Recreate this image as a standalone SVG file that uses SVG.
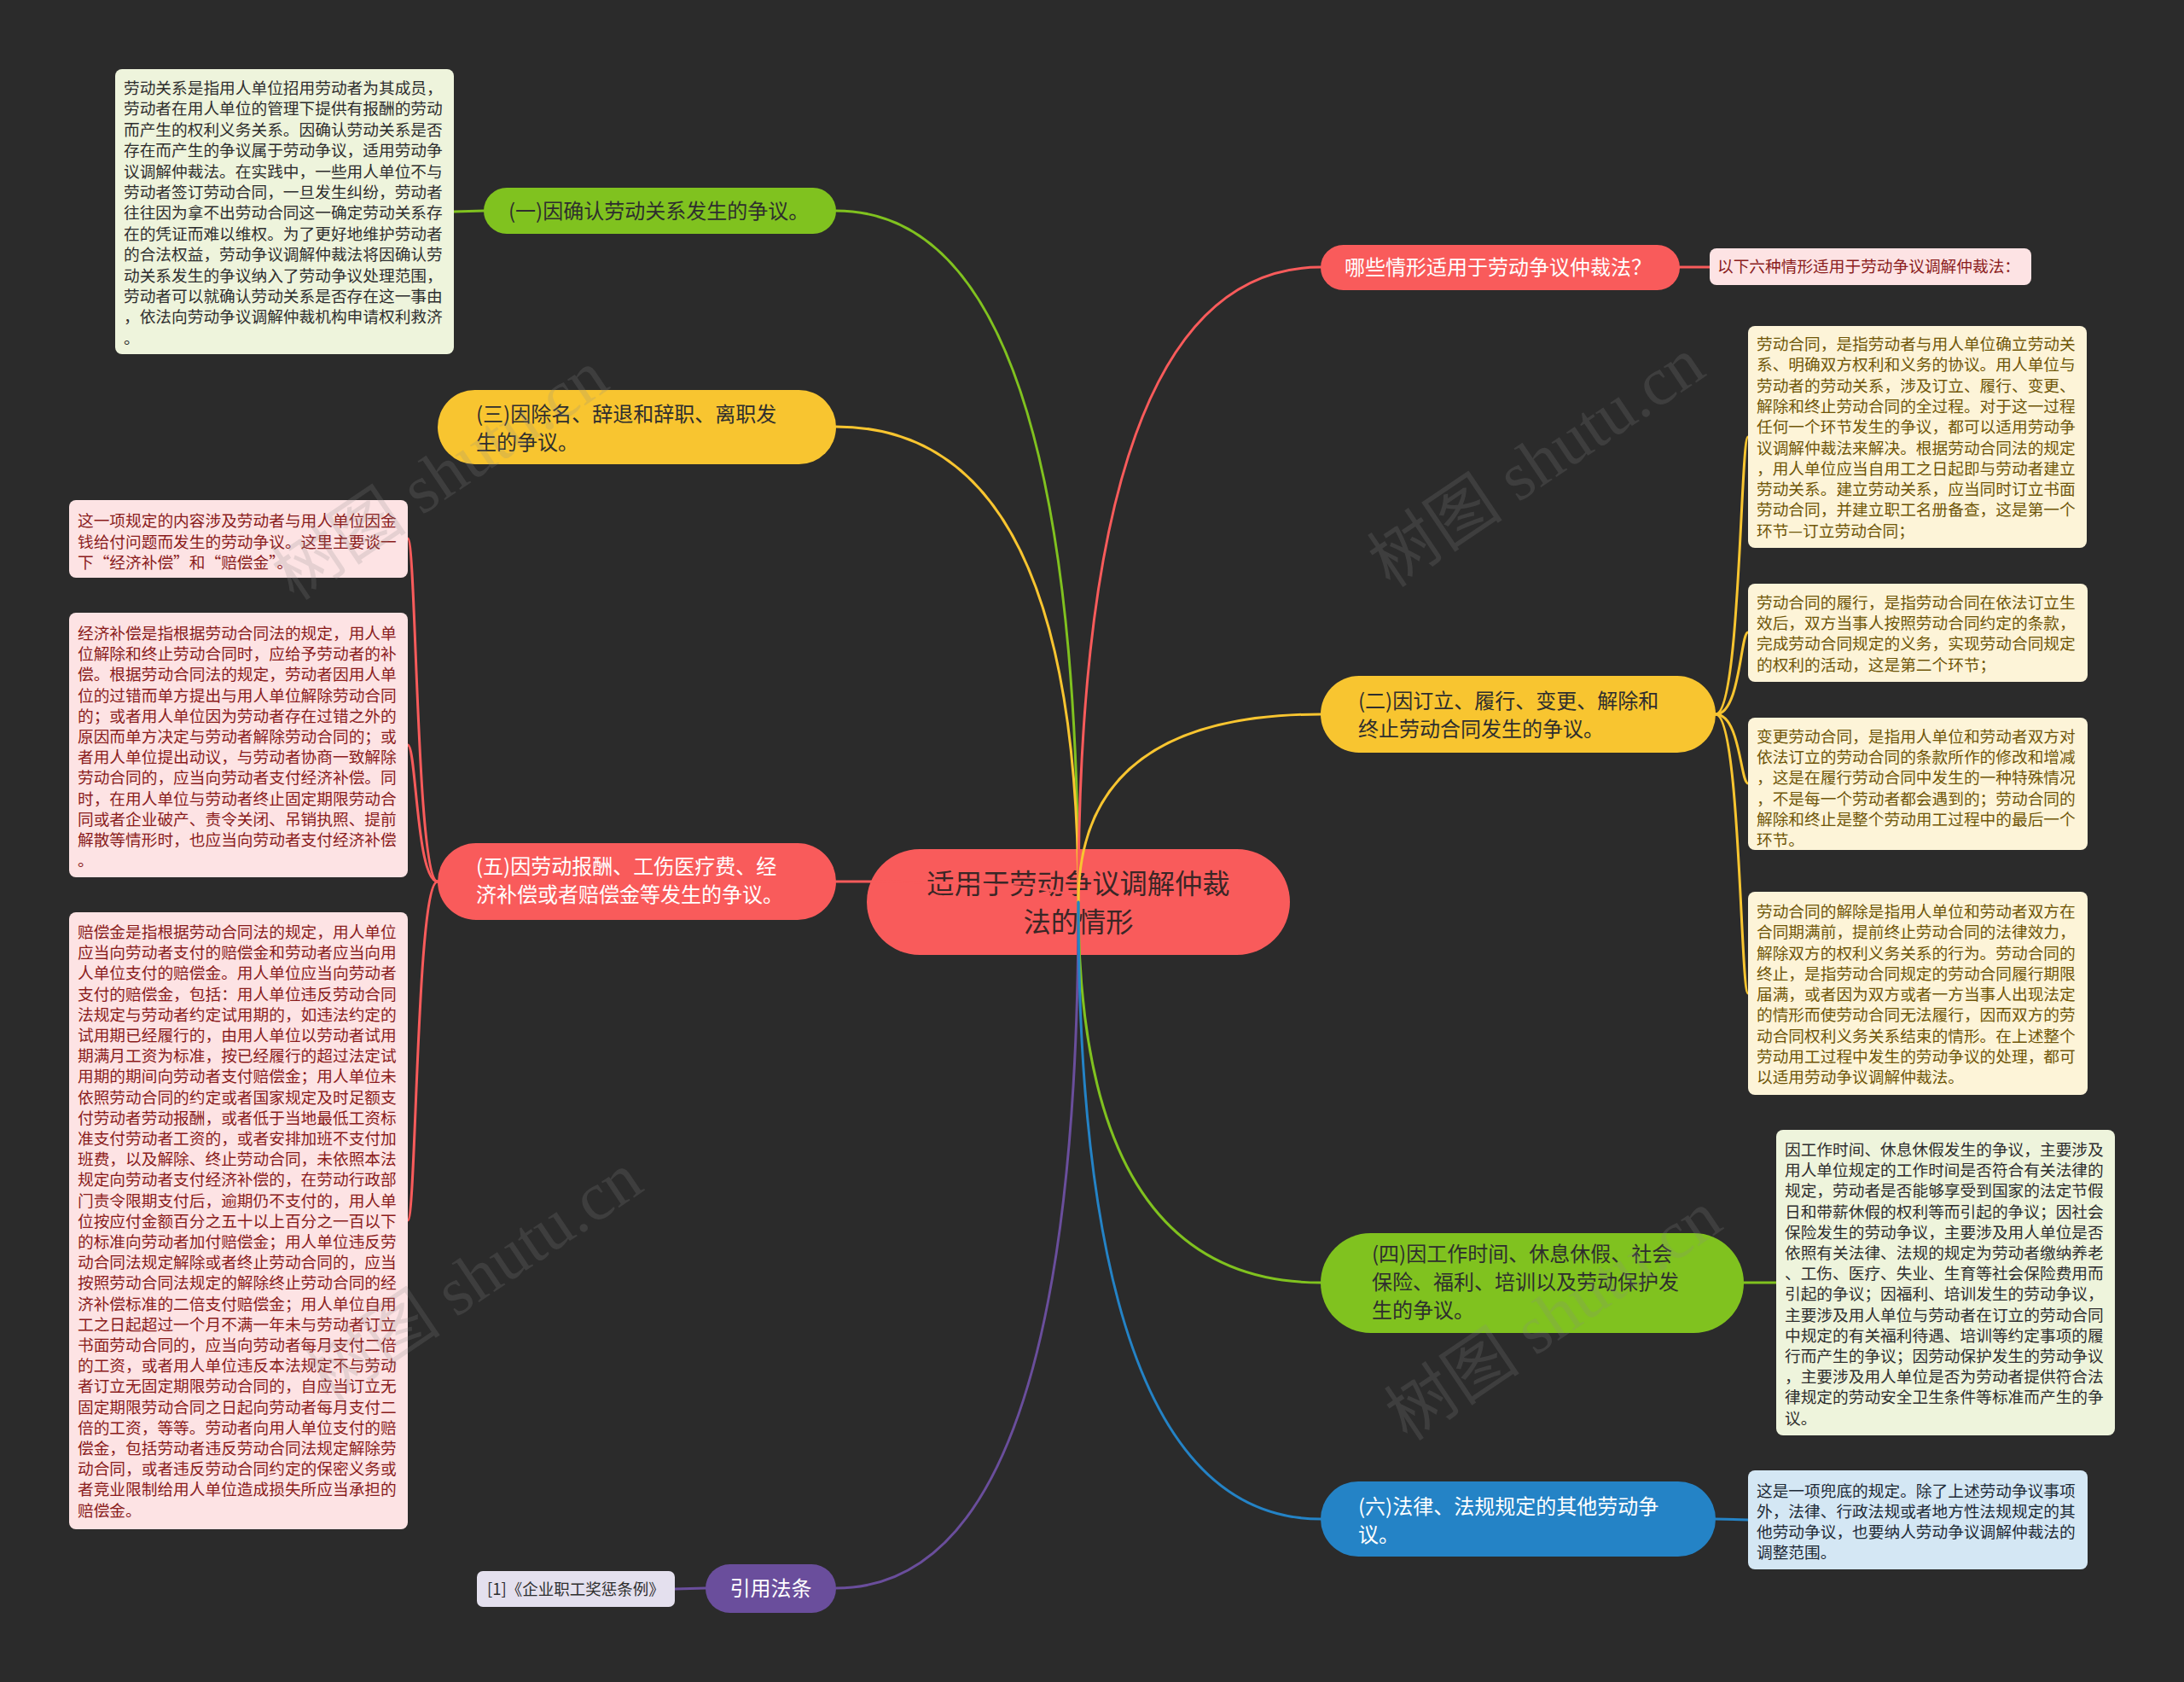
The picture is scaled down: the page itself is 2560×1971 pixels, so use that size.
<svg xmlns="http://www.w3.org/2000/svg" width="2560" height="1971" viewBox="0 0 2560 1971">
<style>
text { font-family: 'Noto Sans CJK SC', 'Noto Sans', sans-serif; }
.nt { font-size: 18.7px; }
.br { font-size: 24px; }
.cx { fill: none; stroke-width: 3; stroke-linecap: round; }
.g { stroke: #80c21f; }
.y { stroke: #f8c530; }
.r { stroke: #f95b5b; }
.b { stroke: #2483c6; }
.p { stroke: #6a4e9c; }
.wm { font-family: 'Liberation Serif', 'Noto Sans CJK SC', serif; font-size: 80px; fill: #8a8a8a; opacity: 0.2; }
.ngreen { fill: #eef4dc; }
.npink { fill: #fde3e4; }
.ncream { fill: #fdf4d8; }
.nblue { fill: #d4e7f4; }
.tdark { fill: #2e2e2e; }
.tred { fill: #8a1c1c; }
.tolive { fill: #6f5608; }
.tnavy { fill: #1e2a36; }
</style>
<rect x="0" y="0" width="2560" height="1971" fill="#2b2b2b"/>

<!-- center node -->
<g id="center">
<rect x="1016" y="995" width="496" height="124" rx="62" fill="#f95b5b"/>
<text x="1264" y="1047" font-size="32.3" text-anchor="middle" fill="#3a2626">适用于劳动争议调解仲裁</text>
<text x="1264" y="1092" font-size="32.3" text-anchor="middle" fill="#3a2626">法的情形</text>
</g>

<g id="connectors">
<path class="cx g" d="M1264,1057 Q1264,247 980,247"/>
<path class="cx y" d="M1264,1057 Q1264,500 980,500"/>
<path class="cx r" d="M1264,1057 Q1264,1033 980,1033"/>
<path class="cx p" d="M1264,1057 Q1264,1861 980,1861"/>
<path class="cx r" d="M1264,1057 Q1264,313 1548,313"/>
<path class="cx y" d="M1264,1057 Q1264,837 1548,837"/>
<path class="cx g" d="M1264,1057 Q1264,1503 1548,1503"/>
<path class="cx b" d="M1264,1057 Q1264,1780 1548,1780"/>
<path class="cx g" d="M567,247 L532,248"/>
<path class="cx r" d="M513,1033 C488,1033 488,631 478,631"/>
<path class="cx r" d="M513,1033 C488,1033 488,873 478,873"/>
<path class="cx r" d="M513,1033 C488,1033 488,1430 478,1430"/>
<path class="cx p" d="M827,1861 L791,1862"/>
<path class="cx r" d="M1969,313 L2004,313"/>
<path class="cx y" d="M2011,837 C2040,837 2040,512 2049,512"/>
<path class="cx y" d="M2011,837 C2040,837 2040,741 2049,741"/>
<path class="cx y" d="M2011,837 C2040,837 2040,918 2049,918"/>
<path class="cx y" d="M2011,837 C2040,837 2040,1164 2049,1164"/>
<path class="cx g" d="M2044,1503 L2082,1503"/>
<path class="cx b" d="M2011,1780 L2049,1781"/>
</g>

<g id="n1">
<rect x="567" y="220" width="413" height="54" rx="27" fill="#80c21f"/>
<text class="br tdark" x="596" y="256">(一)因确认劳动关系发生的争议。</text>
</g>
<g id="n3">
<rect x="513" y="457" width="467" height="87" rx="43.5" fill="#f8c530"/>
<text class="br tdark" x="558" y="494">(三)因除名、辞退和辞职、离职发</text>
<text class="br tdark" x="558" y="527">生的争议。</text>
</g>
<g id="n5">
<rect x="513" y="988" width="467" height="90" rx="45" fill="#f95b5b"/>
<text class="br" fill="#ffffff" x="558" y="1024">(五)因劳动报酬、工伤医疗费、经</text>
<text class="br" fill="#ffffff" x="558" y="1057">济补偿或者赔偿金等发生的争议。</text>
</g>
<g id="nref">
<rect x="827" y="1833" width="153" height="57" rx="28.5" fill="#6a4e9c"/>
<text class="br" fill="#ffffff" x="903.5" y="1870" text-anchor="middle">引用法条</text>
</g>
<g id="nq">
<rect x="1548" y="287" width="421" height="53" rx="26.5" fill="#f95b5b"/>
<text class="br" fill="#ffffff" x="1576" y="322">哪些情形适用于劳动争议仲裁法？</text>
</g>
<g id="n2">
<rect x="1548" y="792" width="463" height="90" rx="45" fill="#f8c530"/>
<text class="br tdark" x="1592" y="830">(二)因订立、履行、变更、解除和</text>
<text class="br tdark" x="1592" y="863">终止劳动合同发生的争议。</text>
</g>
<g id="n4">
<rect x="1548" y="1445" width="496" height="117" rx="58.5" fill="#80c21f"/>
<text class="br tdark" x="1608" y="1478">(四)因工作时间、休息休假、社会</text>
<text class="br tdark" x="1608" y="1511">保险、福利、培训以及劳动保护发</text>
<text class="br tdark" x="1608" y="1544">生的争议。</text>
</g>
<g id="n6">
<rect x="1548" y="1736" width="463" height="88" rx="44" fill="#2483c6"/>
<text class="br" fill="#ffffff" x="1592" y="1774">(六)法律、法规规定的其他劳动争</text>
<text class="br" fill="#ffffff" x="1592" y="1807">议。</text>
</g>

<g id="note-tl">
<rect class="ngreen" x="135" y="81" width="397" height="334" rx="8"/>
<text class="nt tdark" x="145" y="110">
<tspan x="145">劳动关系是指用人单位招用劳动者为其成员，</tspan>
<tspan x="145" dy="24.4">劳动者在用人单位的管理下提供有报酬的劳动</tspan>
<tspan x="145" dy="24.4">而产生的权利义务关系。因确认劳动关系是否</tspan>
<tspan x="145" dy="24.4">存在而产生的争议属于劳动争议，适用劳动争</tspan>
<tspan x="145" dy="24.4">议调解仲裁法。在实践中，一些用人单位不与</tspan>
<tspan x="145" dy="24.4">劳动者签订劳动合同，一旦发生纠纷，劳动者</tspan>
<tspan x="145" dy="24.4">往往因为拿不出劳动合同这一确定劳动关系存</tspan>
<tspan x="145" dy="24.4">在的凭证而难以维权。为了更好地维护劳动者</tspan>
<tspan x="145" dy="24.4">的合法权益，劳动争议调解仲裁法将因确认劳</tspan>
<tspan x="145" dy="24.4">动关系发生的争议纳入了劳动争议处理范围，</tspan>
<tspan x="145" dy="24.4">劳动者可以就确认劳动关系是否存在这一事由</tspan>
<tspan x="145" dy="24.4">，依法向劳动争议调解仲裁机构申请权利救济</tspan>
<tspan x="145" dy="24.4">。</tspan>
</text>
</g>

<g id="note-a">
<rect class="npink" x="81" y="586" width="397" height="91" rx="8"/>
<text class="nt tred" x="91" y="617">
<tspan x="91">这一项规定的内容涉及劳动者与用人单位因金</tspan>
<tspan x="91" dy="24.5">钱给付问题而发生的劳动争议。这里主要谈一</tspan>
<tspan x="91" dy="24.5">下“经济补偿”和“赔偿金”。</tspan>
</text>
</g>

<g id="note-b">
<rect class="npink" x="81" y="718" width="397" height="310" rx="8"/>
<text class="nt tred" x="91" y="749">
<tspan x="91">经济补偿是指根据劳动合同法的规定，用人单</tspan>
<tspan x="91" dy="24.2">位解除和终止劳动合同时，应给予劳动者的补</tspan>
<tspan x="91" dy="24.2">偿。根据劳动合同法的规定，劳动者因用人单</tspan>
<tspan x="91" dy="24.2">位的过错而单方提出与用人单位解除劳动合同</tspan>
<tspan x="91" dy="24.2">的；或者用人单位因为劳动者存在过错之外的</tspan>
<tspan x="91" dy="24.2">原因而单方决定与劳动者解除劳动合同的；或</tspan>
<tspan x="91" dy="24.2">者用人单位提出动议，与劳动者协商一致解除</tspan>
<tspan x="91" dy="24.2">劳动合同的，应当向劳动者支付经济补偿。同</tspan>
<tspan x="91" dy="24.2">时，在用人单位与劳动者终止固定期限劳动合</tspan>
<tspan x="91" dy="24.2">同或者企业破产、责令关闭、吊销执照、提前</tspan>
<tspan x="91" dy="24.2">解散等情形时，也应当向劳动者支付经济补偿</tspan>
<tspan x="91" dy="24.2">。</tspan>
</text>
</g>

<g id="note-c">
<rect class="npink" x="81" y="1069" width="397" height="723" rx="8"/>
<text class="nt tred" x="91" y="1099">
<tspan x="91">赔偿金是指根据劳动合同法的规定，用人单位</tspan>
<tspan x="91" dy="24.2">应当向劳动者支付的赔偿金和劳动者应当向用</tspan>
<tspan x="91" dy="24.2">人单位支付的赔偿金。用人单位应当向劳动者</tspan>
<tspan x="91" dy="24.2">支付的赔偿金，包括：用人单位违反劳动合同</tspan>
<tspan x="91" dy="24.2">法规定与劳动者约定试用期的，如违法约定的</tspan>
<tspan x="91" dy="24.2">试用期已经履行的，由用人单位以劳动者试用</tspan>
<tspan x="91" dy="24.2">期满月工资为标准，按已经履行的超过法定试</tspan>
<tspan x="91" dy="24.2">用期的期间向劳动者支付赔偿金；用人单位未</tspan>
<tspan x="91" dy="24.2">依照劳动合同的约定或者国家规定及时足额支</tspan>
<tspan x="91" dy="24.2">付劳动者劳动报酬，或者低于当地最低工资标</tspan>
<tspan x="91" dy="24.2">准支付劳动者工资的，或者安排加班不支付加</tspan>
<tspan x="91" dy="24.2">班费，以及解除、终止劳动合同，未依照本法</tspan>
<tspan x="91" dy="24.2">规定向劳动者支付经济补偿的，在劳动行政部</tspan>
<tspan x="91" dy="24.2">门责令限期支付后，逾期仍不支付的，用人单</tspan>
<tspan x="91" dy="24.2">位按应付金额百分之五十以上百分之一百以下</tspan>
<tspan x="91" dy="24.2">的标准向劳动者加付赔偿金；用人单位违反劳</tspan>
<tspan x="91" dy="24.2">动合同法规定解除或者终止劳动合同的，应当</tspan>
<tspan x="91" dy="24.2">按照劳动合同法规定的解除终止劳动合同的经</tspan>
<tspan x="91" dy="24.2">济补偿标准的二倍支付赔偿金；用人单位自用</tspan>
<tspan x="91" dy="24.2">工之日起超过一个月不满一年未与劳动者订立</tspan>
<tspan x="91" dy="24.2">书面劳动合同的，应当向劳动者每月支付二倍</tspan>
<tspan x="91" dy="24.2">的工资，或者用人单位违反本法规定不与劳动</tspan>
<tspan x="91" dy="24.2">者订立无固定期限劳动合同的，自应当订立无</tspan>
<tspan x="91" dy="24.2">固定期限劳动合同之日起向劳动者每月支付二</tspan>
<tspan x="91" dy="24.2">倍的工资，等等。劳动者向用人单位支付的赔</tspan>
<tspan x="91" dy="24.2">偿金，包括劳动者违反劳动合同法规定解除劳</tspan>
<tspan x="91" dy="24.2">动合同，或者违反劳动合同约定的保密义务或</tspan>
<tspan x="91" dy="24.2">者竞业限制给用人单位造成损失所应当承担的</tspan>
<tspan x="91" dy="24.2">赔偿金。</tspan>
</text>
</g>

<g id="note-ref">
<rect x="559" y="1841" width="232" height="42" rx="7" fill="#e4e0ee"/>
<text x="571" y="1869" font-size="18.5" fill="#2e2e2e">[1]《企业职工奖惩条例》</text>
</g>

<g id="note-head">
<rect class="npink" x="2004" y="291" width="377" height="43" rx="8"/>
<text class="nt tred" x="2013" y="319">以下六种情形适用于劳动争议调解仲裁法：</text>
</g>

<g id="note-1">
<rect class="ncream" x="2049" y="382" width="397" height="260" rx="8"/>
<text class="nt tolive" x="2059" y="410">
<tspan x="2059">劳动合同，是指劳动者与用人单位确立劳动关</tspan>
<tspan x="2059" dy="24.3">系、明确双方权利和义务的协议。用人单位与</tspan>
<tspan x="2059" dy="24.3">劳动者的劳动关系，涉及订立、履行、变更、</tspan>
<tspan x="2059" dy="24.3">解除和终止劳动合同的全过程。对于这一过程</tspan>
<tspan x="2059" dy="24.3">任何一个环节发生的争议，都可以适用劳动争</tspan>
<tspan x="2059" dy="24.3">议调解仲裁法来解决。根据劳动合同法的规定</tspan>
<tspan x="2059" dy="24.3">，用人单位应当自用工之日起即与劳动者建立</tspan>
<tspan x="2059" dy="24.3">劳动关系。建立劳动关系，应当同时订立书面</tspan>
<tspan x="2059" dy="24.3">劳动合同，并建立职工名册备查，这是第一个</tspan>
<tspan x="2059" dy="24.3">环节—订立劳动合同；</tspan>
</text>
</g>

<g id="note-2">
<rect class="ncream" x="2049" y="684" width="398" height="115" rx="8"/>
<text class="nt tolive" x="2059" y="713">
<tspan x="2059">劳动合同的履行，是指劳动合同在依法订立生</tspan>
<tspan x="2059" dy="24.2">效后，双方当事人按照劳动合同约定的条款，</tspan>
<tspan x="2059" dy="24.2">完成劳动合同规定的义务，实现劳动合同规定</tspan>
<tspan x="2059" dy="24.2">的权利的活动，这是第二个环节；</tspan>
</text>
</g>

<g id="note-3">
<rect class="ncream" x="2049" y="841" width="398" height="155" rx="8"/>
<text class="nt tolive" x="2059" y="870">
<tspan x="2059">变更劳动合同，是指用人单位和劳动者双方对</tspan>
<tspan x="2059" dy="24.2">依法订立的劳动合同的条款所作的修改和增减</tspan>
<tspan x="2059" dy="24.2">，这是在履行劳动合同中发生的一种特殊情况</tspan>
<tspan x="2059" dy="24.2">，不是每一个劳动者都会遇到的；劳动合同的</tspan>
<tspan x="2059" dy="24.2">解除和终止是整个劳动用工过程中的最后一个</tspan>
<tspan x="2059" dy="24.2">环节。</tspan>
</text>
</g>

<g id="note-4">
<rect class="ncream" x="2049" y="1045" width="398" height="238" rx="8"/>
<text class="nt tolive" x="2059" y="1075">
<tspan x="2059">劳动合同的解除是指用人单位和劳动者双方在</tspan>
<tspan x="2059" dy="24.25">合同期满前，提前终止劳动合同的法律效力，</tspan>
<tspan x="2059" dy="24.25">解除双方的权利义务关系的行为。劳动合同的</tspan>
<tspan x="2059" dy="24.25">终止，是指劳动合同规定的劳动合同履行期限</tspan>
<tspan x="2059" dy="24.25">届满，或者因为双方或者一方当事人出现法定</tspan>
<tspan x="2059" dy="24.25">的情形而使劳动合同无法履行，因而双方的劳</tspan>
<tspan x="2059" dy="24.25">动合同权利义务关系结束的情形。在上述整个</tspan>
<tspan x="2059" dy="24.25">劳动用工过程中发生的劳动争议的处理，都可</tspan>
<tspan x="2059" dy="24.25">以适用劳动争议调解仲裁法。</tspan>
</text>
</g>

<g id="note-5">
<rect class="ngreen" x="2082" y="1324" width="397" height="358" rx="8"/>
<text class="nt tdark" x="2092" y="1354">
<tspan x="2092">因工作时间、休息休假发生的争议，主要涉及</tspan>
<tspan x="2092" dy="24.2">用人单位规定的工作时间是否符合有关法律的</tspan>
<tspan x="2092" dy="24.2">规定，劳动者是否能够享受到国家的法定节假</tspan>
<tspan x="2092" dy="24.2">日和带薪休假的权利等而引起的争议；因社会</tspan>
<tspan x="2092" dy="24.2">保险发生的劳动争议，主要涉及用人单位是否</tspan>
<tspan x="2092" dy="24.2">依照有关法律、法规的规定为劳动者缴纳养老</tspan>
<tspan x="2092" dy="24.2">、工伤、医疗、失业、生育等社会保险费用而</tspan>
<tspan x="2092" dy="24.2">引起的争议；因福利、培训发生的劳动争议，</tspan>
<tspan x="2092" dy="24.2">主要涉及用人单位与劳动者在订立的劳动合同</tspan>
<tspan x="2092" dy="24.2">中规定的有关福利待遇、培训等约定事项的履</tspan>
<tspan x="2092" dy="24.2">行而产生的争议；因劳动保护发生的劳动争议</tspan>
<tspan x="2092" dy="24.2">，主要涉及用人单位是否为劳动者提供符合法</tspan>
<tspan x="2092" dy="24.2">律规定的劳动安全卫生条件等标准而产生的争</tspan>
<tspan x="2092" dy="24.2">议。</tspan>
</text>
</g>

<g id="note-6">
<rect class="nblue" x="2049" y="1723" width="398" height="116" rx="8"/>
<text class="nt tnavy" x="2059" y="1754">
<tspan x="2059">这是一项兜底的规定。除了上述劳动争议事项</tspan>
<tspan x="2059" dy="24">外，法律、行政法规或者地方性法规规定的其</tspan>
<tspan x="2059" dy="24">他劳动争议，也要纳人劳动争议调解仲裁法的</tspan>
<tspan x="2059" dy="24">调整范围。</tspan>
</text>
</g>

<g id="watermarks">
<text class="wm" transform="translate(345,705) rotate(-34)">树图 shutu.cn</text>
<text class="wm" transform="translate(1630,690) rotate(-34)">树图 shutu.cn</text>
<text class="wm" transform="translate(385,1645) rotate(-34)">树图 shutu.cn</text>
<text class="wm" transform="translate(1650,1690) rotate(-34)">树图 shutu.cn</text>
</g>
</svg>
